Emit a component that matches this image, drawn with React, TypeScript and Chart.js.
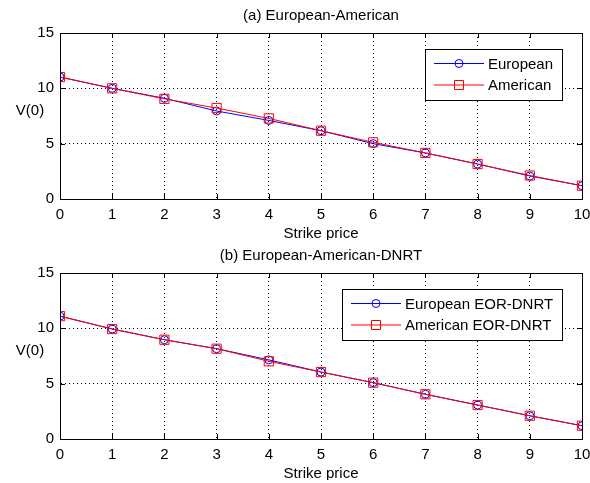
import React, { useEffect, useRef } from "react";
import { Chart, registerables } from "chart.js";

Chart.register(...registerables);

const strikes = [0, 1, 2, 3, 4, 5, 6, 7, 8, 9, 10];
const europeanA = [11.02, 10.0, 9.1, 7.95, 7.1, 6.17, 5.0, 4.16, 3.16, 2.08, 1.2];
const americanA = [11.02, 10.0, 9.05, 8.22, 7.28, 6.17, 5.12, 4.16, 3.16, 2.12, 1.2];
const europeanB = [11.1, 9.94, 8.97, 8.16, 7.15, 6.05, 5.09, 4.04, 3.07, 2.1, 1.2];
const americanB = [11.1, 9.94, 8.97, 8.16, 7.02, 6.05, 5.09, 4.04, 3.07, 2.1, 1.2];
const titleA = "(a) European-American";
const titleB = "(b) European-American-DNRT";
const legendA = ["European", "American"];
const legendB = ["European EOR-DNRT", "American EOR-DNRT"];
const xTitle = "Strike price";
const yTitle = "V(0)";

const FONT = "'Liberation Sans', Arial, sans-serif";

const framePlugin = {
  id: "mlFrame",
  afterDatasetsDraw(chart: any) {
    const { ctx, chartArea } = chart;
    const { left, right, top, bottom } = chartArea;
    const opts = chart.options.plugins.mlLegend;
    ctx.save();
    ctx.strokeStyle = "#000";
    ctx.lineWidth = 1;
    ctx.setLineDash([]);
    ctx.strokeRect(Math.round(left) + 0.5, Math.round(top) + 0.5, Math.round(right - left), Math.round(bottom - top));
    const xs = chart.scales.x;
    const ys = chart.scales.y;
    const tl = 5;
    ctx.beginPath();
    xs.ticks.forEach((t: any) => {
      const px = Math.round(xs.getPixelForValue(t.value)) + 0.5;
      ctx.moveTo(px, bottom);
      ctx.lineTo(px, bottom - tl);
      ctx.moveTo(px, top);
      ctx.lineTo(px, top + tl);
    });
    ys.ticks.forEach((t: any) => {
      const py = Math.round(ys.getPixelForValue(t.value)) + 0.5;
      ctx.moveTo(left, py);
      ctx.lineTo(left + tl, py);
      ctx.moveTo(right, py);
      ctx.lineTo(right - tl, py);
    });
    ctx.stroke();

    // title centred over the axes
    ctx.fillStyle = "#000";
    ctx.font = `15px ${FONT}`;
    ctx.textAlign = "center";
    ctx.textBaseline = "middle";
    ctx.fillText(opts.title, (left + right) / 2, top - 17.5);

    // horizontal y axis title
    ctx.fillText(yTitle, 30, top + 78);

    // legend
    const labels: string[] = opts.labels;
    const tw = Math.max(...labels.map((l) => ctx.measureText(l).width));
    const padL = 9;
    const lineLen = 50;
    const gap = 4;
    const padR = 9;
    const w = padL + lineLen + gap + tw + padR;
    const h = 51;
    const bx = Math.round(right - 19.5 - w);
    const by = Math.round(top + 16);
    ctx.fillStyle = "#fff";
    ctx.fillRect(bx, by, w, h);
    ctx.strokeStyle = "#000";
    ctx.strokeRect(bx + 0.5, by + 0.5, Math.round(w), h);
    const rows = [by + 14.5, by + 36];
    chart.data.datasets.forEach((ds: any, i: number) => {
      const y = rows[i];
      const x0 = bx + padL;
      ctx.strokeStyle = ds.borderColor;
      ctx.lineWidth = 1;
      ctx.beginPath();
      ctx.moveTo(x0, y);
      ctx.lineTo(x0 + lineLen, y);
      ctx.stroke();
      const cx = x0 + lineLen / 2;
      ctx.beginPath();
      if (ds.pointStyle === "rect") {
        ctx.rect(cx - 4.5, y - 4.5, 9, 9);
      } else {
        ctx.arc(cx, y, 4, 0, Math.PI * 2);
      }
      ctx.stroke();
      ctx.fillStyle = "#000";
      ctx.textAlign = "left";
      ctx.textBaseline = "middle";
      ctx.fillText(labels[i], x0 + lineLen + gap, y + 1);
    });
    ctx.restore();
  },
};

function makeConfig(title: string, labels: string[], eu: number[], am: number[]): any {
  const pts = (vals: number[]) => strikes.map((x, i) => ({ x, y: vals[i] }));
  return {
    type: "line",
    data: {
      datasets: [
        {
          label: labels[0],
          data: pts(eu),
          borderColor: "#0000ff",
          backgroundColor: "rgba(0,0,0,0)",
          borderWidth: 1,
          pointStyle: "circle",
          pointRadius: 4,
          pointBorderWidth: 1,
          pointBackgroundColor: "rgba(0,0,0,0)",
          pointBorderColor: "#0000ff",
          order: 2,
          tension: 0,
        },
        {
          label: labels[1],
          data: pts(am),
          borderColor: "#ff0000",
          backgroundColor: "rgba(0,0,0,0)",
          borderWidth: 1,
          pointStyle: "rect",
          pointRadius: 6.5,
          pointBorderWidth: 1,
          pointBackgroundColor: "rgba(0,0,0,0)",
          pointBorderColor: "#ff0000",
          order: 1,
          tension: 0,
        },
      ],
    },
    options: {
      responsive: false,
      animation: false,
      events: [],
      layout: { padding: { left: 0, right: 8, top: 33, bottom: 0 } },
      plugins: {
        legend: { display: false },
        tooltip: { enabled: false },
        title: { display: false },
        mlLegend: { labels, title },
      },
      scales: {
        x: {
          type: "linear",
          min: 0,
          max: 10,
          offset: false,
          afterFit: (s: any) => {
            s.height = 41;
            s.paddingLeft = 0;
            s.paddingRight = 0;
          },
          ticks: {
            stepSize: 1,
            color: "#000",
            padding: 7,
            maxRotation: 0,
            font: { family: FONT, size: 15 },
          },
          grid: { color: "#000", lineWidth: 1, drawTicks: false },
          border: { display: true, color: "#000", width: 1, dash: [1, 3] },
          title: {
            display: true,
            text: xTitle,
            color: "#000",
            font: { family: FONT, size: 15, lineHeight: 1.2 },
            padding: { top: 0, bottom: -3 },
          },
        },
        y: {
          type: "linear",
          min: 0,
          max: 15,
          afterFit: (s: any) => {
            s.width = 60;
            s.paddingTop = 0;
            s.paddingBottom = 0;
          },
          ticks: {
            stepSize: 5,
            color: "#000",
            padding: 6,
            font: { family: FONT, size: 15 },
          },
          grid: { color: "#000", lineWidth: 1, drawTicks: false },
          border: { display: true, color: "#000", width: 1, dash: [1, 3] },
        },
      },
    },
    plugins: [framePlugin],
  };
}

export default function App() {
  const refA = useRef<HTMLCanvasElement | null>(null);
  const refB = useRef<HTMLCanvasElement | null>(null);

  useEffect(() => {
    const a = new Chart(refA.current as HTMLCanvasElement, makeConfig(titleA, legendA, europeanA, americanA));
    const b = new Chart(refB.current as HTMLCanvasElement, makeConfig(titleB, legendB, europeanB, americanB));
    return () => {
      a.destroy();
      b.destroy();
    };
  }, []);

  return (
    <div style={{ position: "absolute", left: 0, top: 0, width: 590, height: 483, background: "#fff" }}>
      <canvas ref={refA} width={590} height={240} style={{ position: "absolute", left: 0, top: 0, display: "block" }} />
      <canvas ref={refB} width={590} height={240} style={{ position: "absolute", left: 0, top: 240, display: "block" }} />
    </div>
  );
}
